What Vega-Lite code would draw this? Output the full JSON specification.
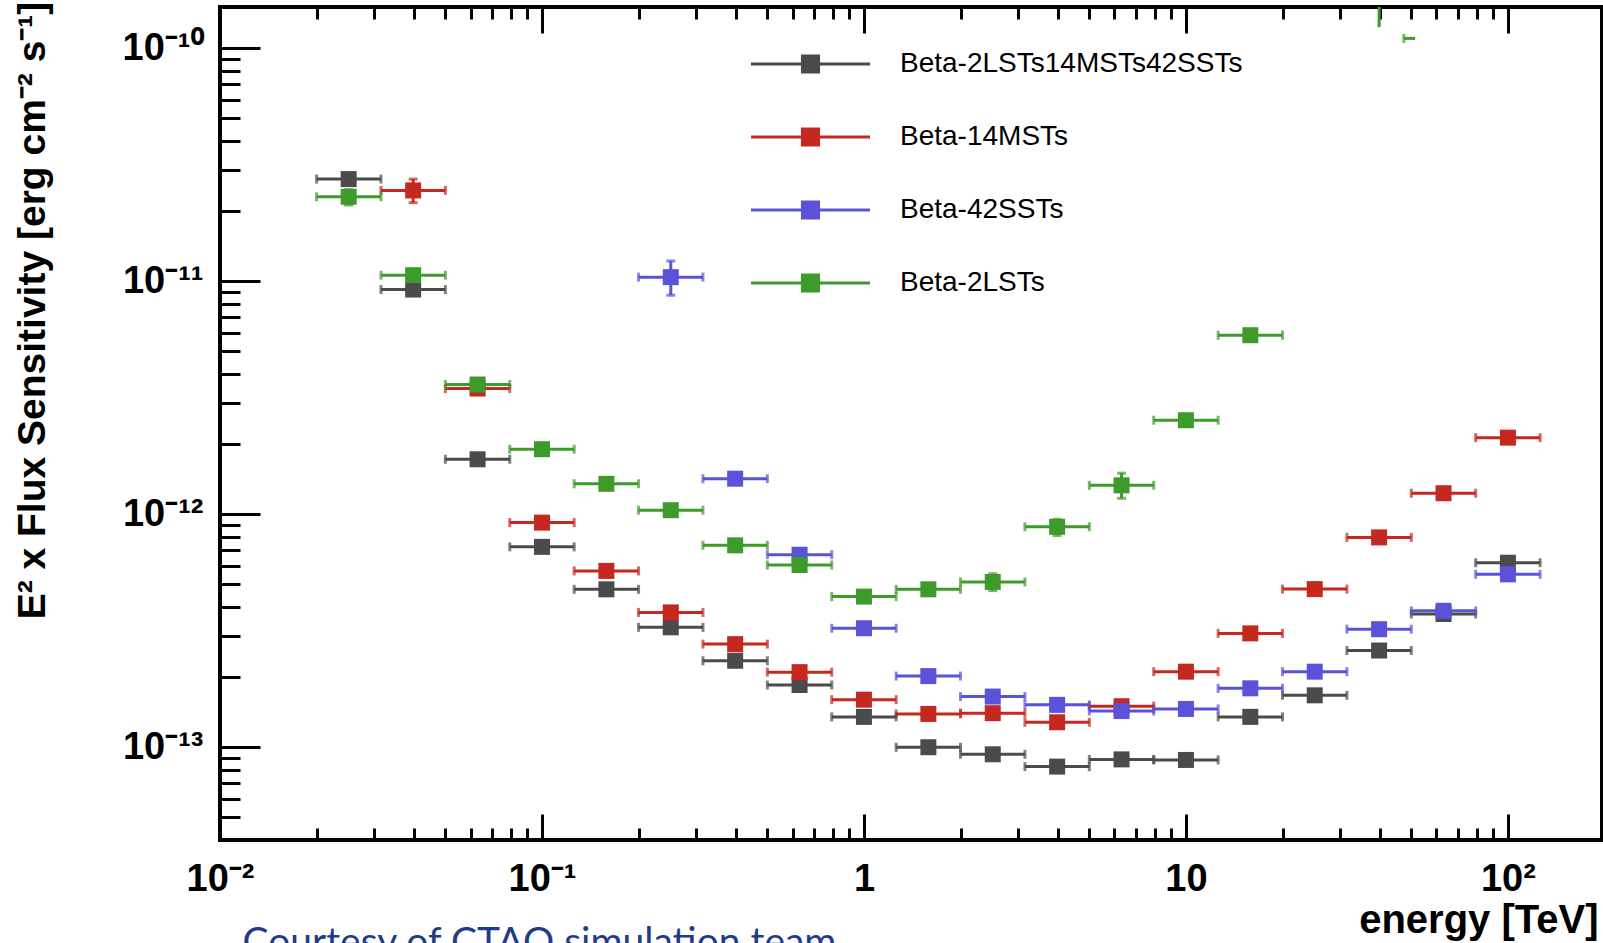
{
  "$schema": "https://vega.github.io/schema/vega-lite/v6.json",
  "width": 1382,
  "height": 833,
  "autosize": {"type": "none"},
  "padding": {"left": 220, "top": 7, "right": 1, "bottom": 103},
  "background": "white",
  "config": {
    "view": {"stroke": "black", "strokeWidth": 4},
    "axis": {"grid": false, "domain": false, "tickColor": "black", "tickWidth": 3, "labelColor": "black", "labelFont": "Liberation Sans", "labelFontWeight": "bold", "labelFontSize": 38, "titleColor": "black", "titleFont": "Liberation Sans", "titleFontWeight": "bold", "labelFlush": false, "labelOverlap": false, "labelBound": false}
  },
  "datasets": {
    "bins": [
      {"s": "Beta-2LSTs14MSTs42SSTs", "e": 0.0251, "lo": 0.01995, "hi": 0.03162, "v": 2.74e-11},
      {"s": "Beta-2LSTs14MSTs42SSTs", "e": 0.0398, "lo": 0.03162, "hi": 0.05012, "v": 9.2e-12},
      {"s": "Beta-2LSTs14MSTs42SSTs", "e": 0.0631, "lo": 0.05012, "hi": 0.07943, "v": 1.72e-12},
      {"s": "Beta-2LSTs14MSTs42SSTs", "e": 0.1, "lo": 0.07943, "hi": 0.1259, "v": 7.24e-13},
      {"s": "Beta-2LSTs14MSTs42SSTs", "e": 0.1585, "lo": 0.1259, "hi": 0.1995, "v": 4.76e-13},
      {"s": "Beta-2LSTs14MSTs42SSTs", "e": 0.2512, "lo": 0.1995, "hi": 0.3162, "v": 3.27e-13},
      {"s": "Beta-2LSTs14MSTs42SSTs", "e": 0.3981, "lo": 0.3162, "hi": 0.5012, "v": 2.35e-13},
      {"s": "Beta-2LSTs14MSTs42SSTs", "e": 0.631, "lo": 0.5012, "hi": 0.7943, "v": 1.85e-13},
      {"s": "Beta-2LSTs14MSTs42SSTs", "e": 1, "lo": 0.7943, "hi": 1.259, "v": 1.35e-13},
      {"s": "Beta-2LSTs14MSTs42SSTs", "e": 1.585, "lo": 1.259, "hi": 1.995, "v": 1.0e-13},
      {"s": "Beta-2LSTs14MSTs42SSTs", "e": 2.512, "lo": 1.995, "hi": 3.162, "v": 9.33e-14},
      {"s": "Beta-2LSTs14MSTs42SSTs", "e": 3.981, "lo": 3.162, "hi": 5.012, "v": 8.26e-14},
      {"s": "Beta-2LSTs14MSTs42SSTs", "e": 6.31, "lo": 5.012, "hi": 7.943, "v": 8.87e-14},
      {"s": "Beta-2LSTs14MSTs42SSTs", "e": 10, "lo": 7.943, "hi": 12.59, "v": 8.82e-14},
      {"s": "Beta-2LSTs14MSTs42SSTs", "e": 15.85, "lo": 12.59, "hi": 19.95, "v": 1.35e-13},
      {"s": "Beta-2LSTs14MSTs42SSTs", "e": 25.12, "lo": 19.95, "hi": 31.62, "v": 1.67e-13},
      {"s": "Beta-2LSTs14MSTs42SSTs", "e": 39.81, "lo": 31.62, "hi": 50.12, "v": 2.6e-13},
      {"s": "Beta-2LSTs14MSTs42SSTs", "e": 63.1, "lo": 50.12, "hi": 79.43, "v": 3.73e-13},
      {"s": "Beta-2LSTs14MSTs42SSTs", "e": 100, "lo": 79.43, "hi": 125.9, "v": 6.19e-13},
      {"s": "Beta-14MSTs", "e": 0.0398, "lo": 0.03162, "hi": 0.05012, "v": 2.45e-11, "vlo": 2.17e-11, "vhi": 2.74e-11},
      {"s": "Beta-14MSTs", "e": 0.0631, "lo": 0.05012, "hi": 0.07943, "v": 3.46e-12},
      {"s": "Beta-14MSTs", "e": 0.1, "lo": 0.07943, "hi": 0.1259, "v": 9.2e-13},
      {"s": "Beta-14MSTs", "e": 0.1585, "lo": 0.1259, "hi": 0.1995, "v": 5.71e-13},
      {"s": "Beta-14MSTs", "e": 0.2512, "lo": 0.1995, "hi": 0.3162, "v": 3.79e-13},
      {"s": "Beta-14MSTs", "e": 0.3981, "lo": 0.3162, "hi": 0.5012, "v": 2.77e-13},
      {"s": "Beta-14MSTs", "e": 0.631, "lo": 0.5012, "hi": 0.7943, "v": 2.1e-13},
      {"s": "Beta-14MSTs", "e": 1, "lo": 0.7943, "hi": 1.259, "v": 1.6e-13},
      {"s": "Beta-14MSTs", "e": 1.585, "lo": 1.259, "hi": 1.995, "v": 1.39e-13},
      {"s": "Beta-14MSTs", "e": 2.512, "lo": 1.995, "hi": 3.162, "v": 1.4e-13},
      {"s": "Beta-14MSTs", "e": 3.981, "lo": 3.162, "hi": 5.012, "v": 1.28e-13},
      {"s": "Beta-14MSTs", "e": 6.31, "lo": 5.012, "hi": 7.943, "v": 1.5e-13},
      {"s": "Beta-14MSTs", "e": 10, "lo": 7.943, "hi": 12.59, "v": 2.11e-13},
      {"s": "Beta-14MSTs", "e": 15.85, "lo": 12.59, "hi": 19.95, "v": 3.08e-13},
      {"s": "Beta-14MSTs", "e": 25.12, "lo": 19.95, "hi": 31.62, "v": 4.77e-13},
      {"s": "Beta-14MSTs", "e": 39.81, "lo": 31.62, "hi": 50.12, "v": 7.95e-13},
      {"s": "Beta-14MSTs", "e": 63.1, "lo": 50.12, "hi": 79.43, "v": 1.23e-12},
      {"s": "Beta-14MSTs", "e": 100, "lo": 79.43, "hi": 125.9, "v": 2.13e-12},
      {"s": "Beta-42SSTs", "e": 0.2512, "lo": 0.1995, "hi": 0.3162, "v": 1.04e-11, "vlo": 8.7e-12, "vhi": 1.22e-11},
      {"s": "Beta-42SSTs", "e": 0.3981, "lo": 0.3162, "hi": 0.5012, "v": 1.42e-12},
      {"s": "Beta-42SSTs", "e": 0.631, "lo": 0.5012, "hi": 0.7943, "v": 6.7e-13},
      {"s": "Beta-42SSTs", "e": 1, "lo": 0.7943, "hi": 1.259, "v": 3.24e-13},
      {"s": "Beta-42SSTs", "e": 1.585, "lo": 1.259, "hi": 1.995, "v": 2.02e-13},
      {"s": "Beta-42SSTs", "e": 2.512, "lo": 1.995, "hi": 3.162, "v": 1.65e-13},
      {"s": "Beta-42SSTs", "e": 3.981, "lo": 3.162, "hi": 5.012, "v": 1.52e-13},
      {"s": "Beta-42SSTs", "e": 6.31, "lo": 5.012, "hi": 7.943, "v": 1.43e-13},
      {"s": "Beta-42SSTs", "e": 10, "lo": 7.943, "hi": 12.59, "v": 1.46e-13},
      {"s": "Beta-42SSTs", "e": 15.85, "lo": 12.59, "hi": 19.95, "v": 1.79e-13},
      {"s": "Beta-42SSTs", "e": 25.12, "lo": 19.95, "hi": 31.62, "v": 2.11e-13},
      {"s": "Beta-42SSTs", "e": 39.81, "lo": 31.62, "hi": 50.12, "v": 3.21e-13},
      {"s": "Beta-42SSTs", "e": 63.1, "lo": 50.12, "hi": 79.43, "v": 3.85e-13},
      {"s": "Beta-42SSTs", "e": 100, "lo": 79.43, "hi": 125.9, "v": 5.52e-13},
      {"s": "Beta-2LSTs", "e": 0.0251, "lo": 0.01995, "hi": 0.03162, "v": 2.3e-11, "vlo": 2.12e-11, "vhi": 2.47e-11},
      {"s": "Beta-2LSTs", "e": 0.0398, "lo": 0.03162, "hi": 0.05012, "v": 1.06e-11},
      {"s": "Beta-2LSTs", "e": 0.0631, "lo": 0.05012, "hi": 0.07943, "v": 3.6e-12},
      {"s": "Beta-2LSTs", "e": 0.1, "lo": 0.07943, "hi": 0.1259, "v": 1.9e-12},
      {"s": "Beta-2LSTs", "e": 0.1585, "lo": 0.1259, "hi": 0.1995, "v": 1.35e-12},
      {"s": "Beta-2LSTs", "e": 0.2512, "lo": 0.1995, "hi": 0.3162, "v": 1.04e-12},
      {"s": "Beta-2LSTs", "e": 0.3981, "lo": 0.3162, "hi": 0.5012, "v": 7.35e-13},
      {"s": "Beta-2LSTs", "e": 0.631, "lo": 0.5012, "hi": 0.7943, "v": 6.05e-13},
      {"s": "Beta-2LSTs", "e": 1, "lo": 0.7943, "hi": 1.259, "v": 4.43e-13},
      {"s": "Beta-2LSTs", "e": 1.585, "lo": 1.259, "hi": 1.995, "v": 4.76e-13},
      {"s": "Beta-2LSTs", "e": 2.512, "lo": 1.995, "hi": 3.162, "v": 5.12e-13, "vlo": 4.7e-13, "vhi": 5.55e-13},
      {"s": "Beta-2LSTs", "e": 3.981, "lo": 3.162, "hi": 5.012, "v": 8.83e-13, "vlo": 8.1e-13, "vhi": 9.5e-13},
      {"s": "Beta-2LSTs", "e": 6.31, "lo": 5.012, "hi": 7.943, "v": 1.33e-12, "vlo": 1.17e-12, "vhi": 1.5e-12},
      {"s": "Beta-2LSTs", "e": 10, "lo": 7.943, "hi": 12.59, "v": 2.53e-12},
      {"s": "Beta-2LSTs", "e": 15.85, "lo": 12.59, "hi": 19.95, "v": 5.86e-12}
    ],
    "offscale_v": [
      {"s": "Beta-2LSTs", "e": 39.81, "vlo": 1.23e-10, "vhi": 1e-9}
    ],
    "offscale_h": [
      {"s": "Beta-2LSTs", "lo": 47.5, "hi": 51.5, "v": 1.1e-10}
    ]
  },
  "resolve": {"axis": {"x": "independent", "y": "independent"}},
  "layer": [
    {
      "data": {"name": "bins"},
      "mark": {"type": "rule", "strokeWidth": 3, "clip": true},
      "encoding": {
        "x": {"field": "lo", "type": "quantitative", "scale": {"type": "log", "domain": [0.01, 196], "nice": false},
          "axis": {"orient": "bottom", "values": [0.01, 0.1, 1, 10, 100], "tickSize": -26, "labelPadding": 46,
            "labelExpr": "datum.value < 0.05 ? '10⁻²' : datum.value < 0.5 ? '10⁻¹' : datum.value < 5 ? '1' : datum.value < 50 ? '10' : '10²'",
            "title": "energy [TeV]", "titleX": 1378, "titleY": 92, "titleAlign": "right", "titleBaseline": "alphabetic", "titleFontSize": 40}},
        "x2": {"field": "hi"},
        "y": {"field": "v", "type": "quantitative", "scale": {"type": "log", "domain": [4e-14, 1.5e-10], "nice": false},
          "axis": {"orient": "left", "values": [1e-13, 1e-12, 1e-11, 1e-10], "tickSize": -40, "labelPadding": 57, "labelBaseline": "middle",
            "labelExpr": "datum.value < 5e-13 ? '10⁻¹³' : datum.value < 5e-12 ? '10⁻¹²' : datum.value < 5e-11 ? '10⁻¹¹' : '10⁻¹⁰'",
            "title": "E² x Flux Sensitivity [erg cm⁻² s⁻¹]", "titleX": -188, "titleY": 303, "titleAngle": 270, "titleAlign": "center", "titleBaseline": "middle", "titleFontSize": 39}},
        "color": {"field": "s", "type": "nominal",
          "scale": {"domain": ["Beta-2LSTs14MSTs42SSTs", "Beta-14MSTs", "Beta-42SSTs", "Beta-2LSTs"], "range": ["#4b4b4b", "#c4281f", "#5a52d8", "#3e9b2b"]},
          "legend": {"orient": "none", "legendX": 554, "legendY": 20.5, "title": null, "padding": 0, "rowPadding": 22,
            "symbolType": "M-1.7,0H1.7M-0.23,-0.23H0.23V0.23H-0.23Z", "symbolSize": 4900, "symbolStrokeWidth": 3,
            "labelFont": "Liberation Sans", "labelFontSize": 28, "labelFontWeight": "normal", "labelColor": "black", "labelOffset": 53, "labelLimit": 600,
            "encode": {"symbols": {"update": {"shape": {"value": "M-1.7,0H1.7M-0.23,-0.23H0.23V0.23H-0.23Z"}, "size": {"value": 4900}, "stroke": {"scale": "color", "field": "value"}, "fill": {"scale": "color", "field": "value"}, "strokeWidth": {"value": 3}, "opacity": {"value": 1}, "strokeOpacity": {"value": 1}, "fillOpacity": {"value": 1}}}}}}
      }
    },
    {
      "data": {"name": "bins"},
      "mark": {"type": "tick", "orient": "vertical", "size": 9, "thickness": 3, "clip": true},
      "encoding": {
        "x": {"field": "lo", "type": "quantitative", "scale": {"type": "log", "domain": [0.01, 196], "nice": false},
          "axis": {"orient": "bottom", "values": [0.02, 0.03, 0.04, 0.05, 0.06, 0.07, 0.08, 0.09, 0.2, 0.3, 0.4, 0.5, 0.6, 0.7, 0.8, 0.9, 2, 3, 4, 5, 6, 7, 8, 9, 20, 30, 40, 50, 60, 70, 80, 90], "tickSize": -12, "labels": false, "title": null}},
        "y": {"field": "v", "type": "quantitative", "scale": {"type": "log", "domain": [4e-14, 1.5e-10], "nice": false},
          "axis": {"orient": "left", "values": [5e-14, 6e-14, 7e-14, 8e-14, 9e-14, 2e-13, 3e-13, 4e-13, 5e-13, 6e-13, 7e-13, 8e-13, 9e-13, 2e-12, 3e-12, 4e-12, 5e-12, 6e-12, 7e-12, 8e-12, 9e-12, 2e-11, 3e-11, 4e-11, 5e-11, 6e-11, 7e-11, 8e-11, 9e-11], "tickSize": -20, "labels": false, "title": null}},
        "color": {"field": "s", "type": "nominal"}
      }
    },
    {
      "data": {"name": "bins"},
      "mark": {"type": "tick", "orient": "vertical", "size": 9, "thickness": 3, "clip": true},
      "encoding": {
        "x": {"field": "hi", "type": "quantitative", "scale": {"type": "log", "domain": [0.01, 196], "nice": false},
          "axis": {"orient": "top", "values": [0.01, 0.1, 1, 10, 100], "tickSize": -26, "labels": false, "title": null}},
        "y": {"field": "v", "type": "quantitative", "scale": {"type": "log", "domain": [4e-14, 1.5e-10], "nice": false}, "axis": null},
        "color": {"field": "s", "type": "nominal"}
      }
    },
    {
      "data": {"name": "bins"},
      "transform": [{"filter": "isValid(datum.vlo)"}],
      "mark": {"type": "rule", "strokeWidth": 3, "clip": true},
      "encoding": {
        "x": {"field": "e", "type": "quantitative", "scale": {"type": "log", "domain": [0.01, 196], "nice": false},
          "axis": {"orient": "top", "values": [0.02, 0.03, 0.04, 0.05, 0.06, 0.07, 0.08, 0.09, 0.2, 0.3, 0.4, 0.5, 0.6, 0.7, 0.8, 0.9, 2, 3, 4, 5, 6, 7, 8, 9, 20, 30, 40, 50, 60, 70, 80, 90], "tickSize": -12, "labels": false, "title": null}},
        "y": {"field": "vlo", "type": "quantitative", "scale": {"type": "log", "domain": [4e-14, 1.5e-10], "nice": false}, "axis": null},
        "y2": {"field": "vhi"},
        "color": {"field": "s", "type": "nominal"}
      }
    },
    {
      "data": {"name": "bins"},
      "transform": [{"filter": "isValid(datum.vlo)"}],
      "mark": {"type": "tick", "orient": "horizontal", "size": 9, "thickness": 3, "clip": true},
      "encoding": {
        "x": {"field": "e", "type": "quantitative", "scale": {"type": "log", "domain": [0.01, 196], "nice": false},
          "axis": {"orient": "bottom", "ticks": false, "labels": false, "domain": false, "title": "Courtesy of CTAO simulation team", "titleX": 22, "titleY": 114, "titleAlign": "left", "titleBaseline": "alphabetic", "titleFont": "Lato", "titleFontWeight": "normal", "titleFontSize": 39, "titleColor": "#1f3c88"}},
        "y": {"field": "vlo", "type": "quantitative", "scale": {"type": "log", "domain": [4e-14, 1.5e-10], "nice": false}, "axis": null},
        "color": {"field": "s", "type": "nominal"}
      }
    },
    {
      "data": {"name": "bins"},
      "transform": [{"filter": "isValid(datum.vhi)"}],
      "mark": {"type": "tick", "orient": "horizontal", "size": 9, "thickness": 3, "clip": true},
      "encoding": {
        "x": {"field": "e", "type": "quantitative", "scale": {"type": "log", "domain": [0.01, 196], "nice": false}, "axis": null},
        "y": {"field": "vhi", "type": "quantitative", "scale": {"type": "log", "domain": [4e-14, 1.5e-10], "nice": false}, "axis": null},
        "color": {"field": "s", "type": "nominal"}
      }
    },
    {
      "data": {"name": "offscale_v"},
      "mark": {"type": "rule", "strokeWidth": 3, "clip": true},
      "encoding": {
        "x": {"field": "e", "type": "quantitative", "scale": {"type": "log", "domain": [0.01, 196], "nice": false}, "axis": null},
        "y": {"field": "vlo", "type": "quantitative", "scale": {"type": "log", "domain": [4e-14, 1.5e-10], "nice": false}, "axis": null},
        "y2": {"field": "vhi"},
        "color": {"field": "s", "type": "nominal"}
      }
    },
    {
      "data": {"name": "offscale_h"},
      "mark": {"type": "rule", "strokeWidth": 3, "clip": true},
      "encoding": {
        "x": {"field": "lo", "type": "quantitative", "scale": {"type": "log", "domain": [0.01, 196], "nice": false}, "axis": null},
        "x2": {"field": "hi"},
        "y": {"field": "v", "type": "quantitative", "scale": {"type": "log", "domain": [4e-14, 1.5e-10], "nice": false}, "axis": null},
        "color": {"field": "s", "type": "nominal"}
      }
    },
    {
      "data": {"name": "offscale_h"},
      "mark": {"type": "tick", "orient": "vertical", "size": 9, "thickness": 3, "clip": true},
      "encoding": {
        "x": {"field": "lo", "type": "quantitative", "scale": {"type": "log", "domain": [0.01, 196], "nice": false}, "axis": null},
        "y": {"field": "v", "type": "quantitative", "scale": {"type": "log", "domain": [4e-14, 1.5e-10], "nice": false}, "axis": null},
        "color": {"field": "s", "type": "nominal"}
      }
    },
    {
      "data": {"name": "bins"},
      "mark": {"type": "point", "shape": "square", "filled": true, "size": 256, "opacity": 1, "clip": true},
      "encoding": {
        "x": {"field": "e", "type": "quantitative", "scale": {"type": "log", "domain": [0.01, 196], "nice": false}, "axis": null},
        "y": {"field": "v", "type": "quantitative", "scale": {"type": "log", "domain": [4e-14, 1.5e-10], "nice": false}, "axis": null},
        "color": {"field": "s", "type": "nominal"}
      }
    }
  ]
}
